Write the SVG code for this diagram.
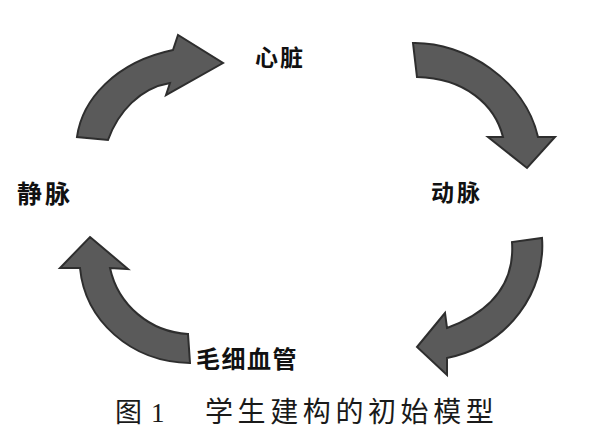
<svg xmlns="http://www.w3.org/2000/svg" width="600" height="439" viewBox="0 0 600 439">
<style>
.arr{fill:#5a5a5a;stroke:#2e2e2e;stroke-width:2;stroke-linejoin:miter}
.lbl{font-family:"Noto Sans CJK SC","Noto Sans",sans-serif;font-weight:600;fill:#111}
.cap{font-family:"Liberation Serif","Noto Sans CJK SC",serif;font-weight:400;fill:#1a1a1a}
</style>
<rect width="600" height="439" fill="#ffffff"/>
<g id="connectors">
<path id="heart-artery" class="arr" d="M413,43 C465,42 525,80 538,137 L555,137 L527,168 L488,137 L503,137 C495,105 465,78 417,77 Z"/>
<path id="artery-capillary" class="arr" d="M542,238 C546,290 510,345 447,358 L447,375 L417,347 L445,313 L447,328 C490,312 515,285 512,242 Z"/>
<path id="capillary-vein" class="arr" d="M90,237 L128,269 L110,268 C118,305 150,332 188,334 L190,363 C130,362 85,320 80,268 L60,268 Z"/>
<path id="vein-heart" class="arr" d="M77,137 C82,100 115,62 173,50 L178,35 L223,63 L166,95 L170,83 C140,88 118,112 108,140 Z"/>
</g>
<g id="heart"><text class="lbl" x="255" y="66" font-size="23" letter-spacing="2">心脏</text></g>
<g id="artery"><text class="lbl" x="431" y="201" font-size="23" letter-spacing="3">动脉</text></g>
<g id="capillary"><text class="lbl" x="196" y="368" font-size="24" letter-spacing="1.5">毛细血管</text></g>
<g id="vein"><text class="lbl" x="17" y="203" font-size="25" letter-spacing="3">静脉</text></g>
<g id="caption">
<text class="cap" x="115" y="422" font-size="27">图</text>
<text class="cap" x="151" y="422" font-size="27">1</text>
<text class="cap" x="205" y="422" font-size="28" letter-spacing="4.6">学生建构的初始模型</text>
</g>
</svg>
